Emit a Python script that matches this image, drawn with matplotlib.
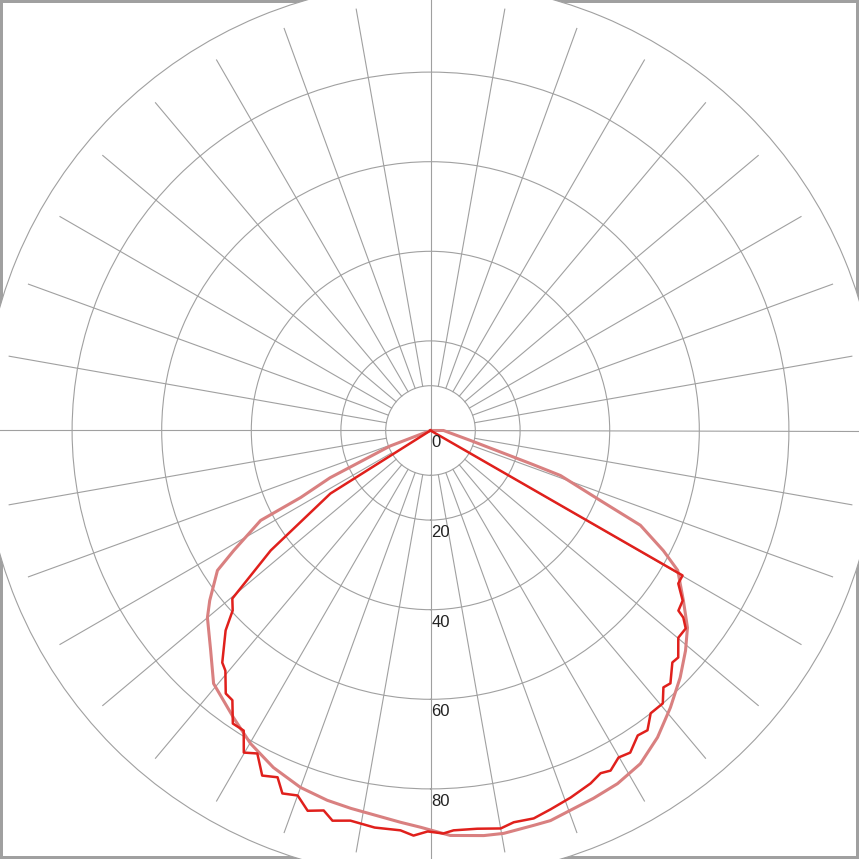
import matplotlib
matplotlib.use('Agg')
import matplotlib.pyplot as plt
import matplotlib.transforms as mtransforms
import numpy as np

# light curve (degrees from nadir, intensity)
pink_angle = [-70.0, -69.0, -64.8, -62.7, -62.1, -58.6, -56.7, -52.4, -50.0, -45.0,
              -40.6, -34.5, -29.9, -25.0, -20.0, -15.6, -11.9, -4.4, -1.4, 2.8,
              7.5, 10.3, 14.6, 17.1, 23.9, 27.9, 32.2, 36.5, 40.9, 45.3,
              49.2, 52.5, 56.1, 60.5, 62.7, 65.7, 67.6, 70.9, 71.7, 76.0, 90.0, 90.0]
pink_r = [0.0, 9.6, 24.8, 32.6, 42.9, 51.5, 56.9, 62.2, 65.0, 69.4,
          74.4, 77.7, 80.6, 83.0, 84.8, 85.7, 86.2, 87.7, 88.6, 90.5,
          91.2, 91.4, 91.1, 91.1, 89.8, 89.2, 87.9, 85.2, 81.8, 78.4,
          75.2, 72.3, 68.0, 63.4, 58.5, 51.4, 41.0, 30.7, 23.5, 9.2, 2.9, 0.0]

# stepped curve
red_angle = [-57.8, -57.8, -53.1, -49.7, -47.7, -45.7, -41.9, -40.5, -37.9, -36.3,
             -34.0, -31.9, -30.1, -28.2, -26.0, -23.8, -22.2, -20.0, -17.9, -15.7,
             -14.1, -11.6, -8.0, -4.3, -2.4, -0.4, 1.8, 3.3, 6.7, 10.0,
             12.0, 14.9, 17.6, 20.9, 24.4, 26.4, 27.9, 29.9, 31.8, 34.2,
             35.9, 37.9, 40.4, 42.2, 43.5, 46.2, 47.5, 50.1, 52.2, 53.5,
             54.0, 56.0, 58.3, 60.1, 60.1]
red_r = [0.0, 26.4, 44.6, 58.0, 59.7, 63.9, 69.6, 70.5, 74.4, 74.7,
         78.9, 78.9, 83.1, 81.8, 85.7, 84.6, 87.5, 86.7, 89.2, 88.1,
         89.8, 88.9, 89.5, 89.5, 90.5, 89.5, 90.0, 89.4, 89.5, 90.2,
         89.4, 89.6, 88.7, 87.7, 86.5, 85.4, 85.9, 84.2, 84.6, 82.3,
         82.6, 80.0, 80.0, 77.4, 77.8, 74.8, 75.0, 72.1, 72.1, 70.2,
         68.4, 67.9, 65.0, 64.9, 0.0]

ring_values = [10, 20, 40, 60, 80]
label_values = [0, 20, 40, 60, 80]
label_text = ['0', '20', '40', '60', '80']

grid_col = '#a0a0a0'

fig = plt.figure(figsize=(8.59, 8.59), dpi=100)
fig.patch.set_facecolor('white')
fig.patch.set_edgecolor(grid_col)
fig.patch.set_linewidth(4)

cx = 430.5 / 859
cy = (859 - 430.5) / 859
rad = 448 / 859
ax = fig.add_axes([cx - rad, cy - rad, 2 * rad, 2 * rad], projection='polar')
ax.set_theta_zero_location('S')
ax.set_rlim(0, 100)
ax.set_thetagrids([])
ax.set_rgrids(ring_values, labels=[''] * len(ring_values))
ax.yaxis.grid(True, color=grid_col, linewidth=0.8)
ax.xaxis.grid(False)
ax.spines['polar'].set_color(grid_col)
ax.spines['polar'].set_linewidth(0.8)
ax.set_facecolor('white')

# spokes every 10 deg, main axes go through the centre
for a in np.arange(0, 360, 10):
    t = np.deg2rad(a)
    if a % 90 == 0:
        ax.plot([t, t], [0, 96], color=grid_col, linewidth=0.8, zorder=1)
    else:
        ax.plot([t, t], [10, 95.5], color=grid_col, linewidth=0.8, zorder=1)

ax.plot(np.deg2rad(pink_angle), pink_r, color='#d98080', linewidth=2.2, zorder=3)
ax.plot(np.deg2rad(red_angle), red_r, color='#e0201c', linewidth=1.8, zorder=4)

off = mtransforms.offset_copy(ax.transData, fig=fig, x=1, y=-5, units='dots')
for v, s in zip(label_values, label_text):
    ax.text(0, v, s, transform=off, ha='left', va='top', fontsize=12,
            family='Liberation Sans', color='#222222', zorder=5)

fig.savefig('out.png', dpi=100)
